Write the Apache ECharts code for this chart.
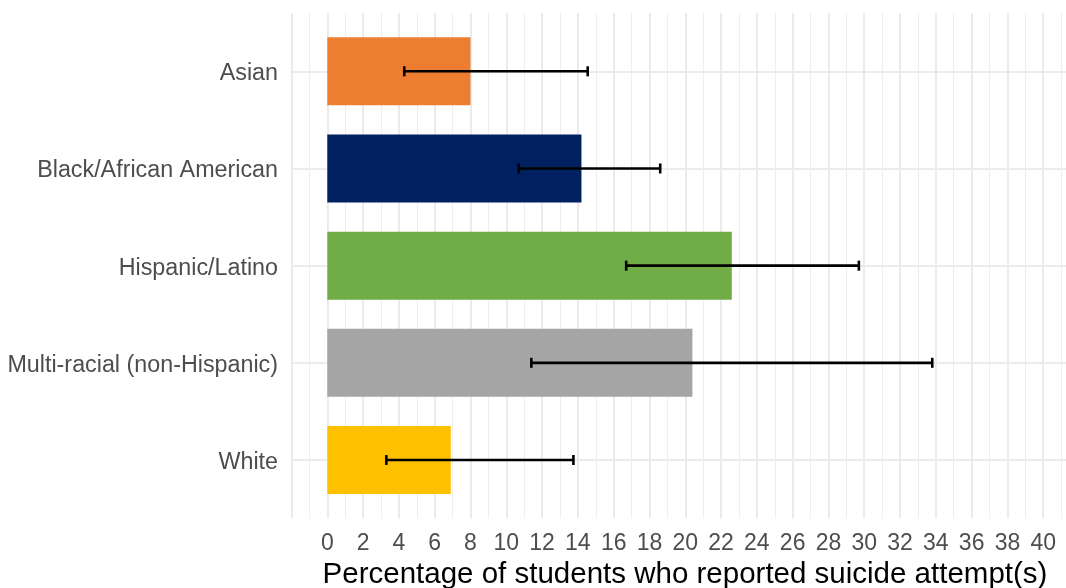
<!DOCTYPE html>
<html>
<head>
<meta charset="utf-8">
<script src="https://cdn.jsdelivr.net/npm/echarts@6/dist/echarts.min.js"></script>
<style>
  html, body { margin: 0; padding: 0; background: #ffffff; }
  #chart { width: 1066px; height: 588px; }
</style>
</head>
<body>
<div id="chart"></div>
<script>
// Groups, top to bottom
const categories = ['Asian', 'Black/African American', 'Hispanic/Latino', 'Multi-racial (non-Hispanic)', 'White'];
// Percentage of students reporting suicide attempt(s)
const percentValues = [8.0, 14.2, 22.6, 20.4, 6.9];
// 95% interval bounds
const lowerBounds = [4.3, 10.7, 16.7, 11.4, 3.3];
const upperBounds = [14.55, 18.6, 29.7, 33.8, 13.75];
const barColors = ['#ED7D31', '#002060', '#70AD47', '#A5A5A5', '#FFC000'];
// Labelled ticks on the percentage axis
const tickLabels = [0, 2, 4, 6, 8, 10, 12, 14, 16, 18, 20, 22, 24, 26, 28, 30, 32, 34, 36, 38, 40];

const FONT = "'Liberation Sans', Arial, sans-serif";
const X_MIN = -2, X_MAX = 41.3;
const gridLeft = 291.5, gridWidth = 775;

const chart = echarts.init(document.getElementById('chart'), null, { renderer: 'canvas' });

const errorData = categories.map((c, i) => [i, lowerBounds[i], upperBounds[i]]);

chart.setOption({
  backgroundColor: '#ffffff',
  animation: false,
  grid: [
    // full panel: carries the vertical grid lines and the percentage axis
    { left: gridLeft, width: gridWidth, top: 13, height: 505.3, containLabel: false, outerBoundsMode: 'none' },
    // bar band area: category centres from first to last group
    { left: gridLeft, width: gridWidth, top: 71.3, height: 388.7, containLabel: false, outerBoundsMode: 'none' }
  ],
  xAxis: [
    {
      gridIndex: 0, type: 'value', position: 'bottom', min: X_MIN, max: X_MAX, interval: 1,
      axisLine: { show: false }, axisTick: { show: false }, axisLabel: { show: false },
      splitLine: { show: true, lineStyle: { color: '#EEEEEE', width: 1 } }
    },
    {
      gridIndex: 0, type: 'value', position: 'bottom', offset: 0, min: X_MIN, max: X_MAX, interval: 2,
      axisLine: { show: false }, axisTick: { show: false },
      axisLabel: {
        margin: 14, fontSize: 23, color: '#4D4D4D', fontFamily: FONT,
        formatter: v => (tickLabels.indexOf(v) >= 0 ? String(v) : '')
      },
      splitLine: { show: true, lineStyle: { color: '#EBEBEB', width: 2 } },
      name: 'Percentage of students who reported suicide attempt(s)',
      nameLocation: 'middle', nameGap: 37,
      nameTextStyle: { fontSize: 29.5, color: '#000000', fontFamily: FONT, padding: [0, 0, 0, 12] }
    },
    {
      gridIndex: 1, type: 'value', min: X_MIN, max: X_MAX, show: false,
      splitLine: { show: false }
    }
  ],
  yAxis: [
    { gridIndex: 0, type: 'value', show: false, splitLine: { show: false } },
    {
      gridIndex: 1, type: 'category', data: categories, inverse: true, boundaryGap: false,
      axisLine: { show: false }, axisTick: { show: false },
      axisLabel: {
        margin: 13.5, color: '#4D4D4D', fontFamily: FONT, fontSize: 23.3,
        formatter: v => '{c|' + v + '}',
        rich: { c: { fontSize: 23.3, color: '#4D4D4D', fontFamily: FONT, padding: [5, 0, 0, 0] } }
      },
      splitLine: { show: true, interval: 0, lineStyle: { color: '#EBEBEB', width: 2 } }
    }
  ],
  series: [
    {
      type: 'bar', xAxisIndex: 2, yAxisIndex: 1, barWidth: 68, clip: false,
      data: percentValues.map((v, i) => ({ value: v, itemStyle: { color: barColors[i] } }))
    },
    {
      type: 'custom', xAxisIndex: 2, yAxisIndex: 1, z: 5, clip: false,
      data: errorData,
      encode: { x: [1, 2], y: 0 },
      renderItem: function (params, api) {
        const idx = api.value(0);
        const lo = api.coord([api.value(1), idx]);
        const hi = api.coord([api.value(2), idx]);
        const cap = 5;
        const style = { stroke: '#000000', lineWidth: 2.6 };
        return {
          type: 'group',
          children: [
            { type: 'line', shape: { x1: lo[0], y1: lo[1], x2: hi[0], y2: hi[1] }, style: style },
            { type: 'line', shape: { x1: lo[0], y1: lo[1] - cap, x2: lo[0], y2: lo[1] + cap }, style: style },
            { type: 'line', shape: { x1: hi[0], y1: hi[1] - cap, x2: hi[0], y2: hi[1] + cap }, style: style }
          ]
        };
      }
    }
  ]
});
</script>
</body>
</html>
